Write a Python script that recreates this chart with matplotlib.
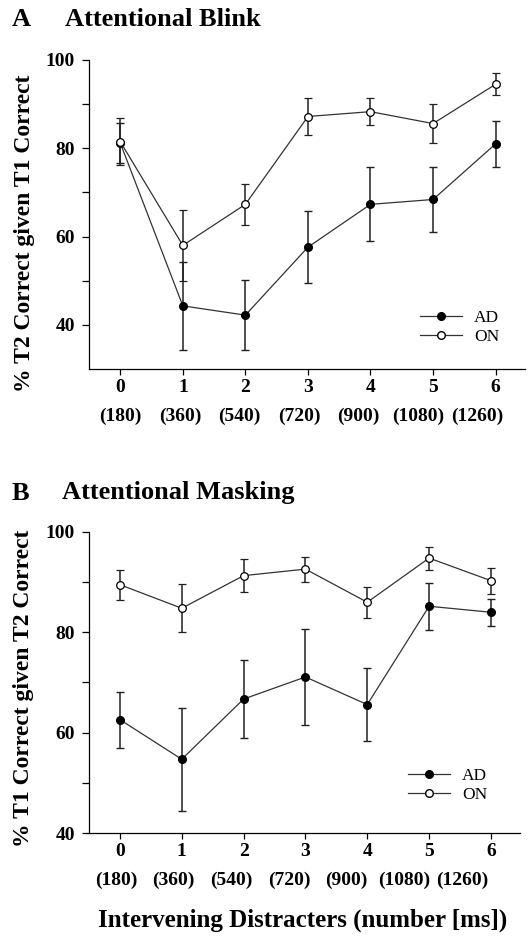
import matplotlib
matplotlib.use("Agg")
import matplotlib.pyplot as plt
from matplotlib.lines import Line2D

plt.rcParams["font.family"] = ["Liberation Serif", "DejaVu Serif"]

# ---------- Data ----------

distracters = [0, 1, 2, 3, 4, 5, 6]
ms_labels = ["(180)", "(360)", "(540)", "(720)", "(900)", "(1080)", "(1260)"]

# panel A: attentional blink (% T2 correct given T1 correct)
ad_blink = [81.2, 44.3, 42.2, 57.6, 67.3, 68.4, 81.0]
ad_blink_err = [4.6, 10.0, 8.0, 8.1, 8.4, 7.4, 5.2]
on_blink = [81.5, 58.0, 67.3, 87.2, 88.3, 85.6, 94.5]
on_blink_err = [5.3, 8.0, 4.7, 4.3, 3.0, 4.5, 2.5]

# panel B: attentional masking (% T1 correct given T2 correct)
ad_mask = [62.6, 54.7, 66.7, 71.1, 65.6, 85.2, 84.0]
ad_mask_err = [5.6, 10.3, 7.7, 9.6, 7.2, 4.7, 2.7]
on_mask = [89.5, 84.8, 91.3, 92.6, 86.0, 94.8, 90.3]
on_mask_err = [3.0, 4.8, 3.3, 2.5, 3.1, 2.3, 2.6]

# ---------- Figure ----------

W, H = 528, 936
fig = plt.figure(figsize=(W / 100, H / 100), dpi=100)

axA = fig.add_axes([89 / W, 1 - 369 / H, (525 - 89) / W, 309 / H])
axB = fig.add_axes([89 / W, 1 - 833 / H, (520 - 89) / W, 301 / H])

line_col = "#333333"
err_col = "#202020"


def draw_panel(ax, ad, ad_err, on, on_err, ylo, ylabel, ylabel_x, ylabel_y,
               ms_start, ms_step, leg_anchor):
    ax.errorbar(distracters, ad, yerr=ad_err, color=line_col, ecolor=err_col,
                elinewidth=1.1, capsize=3, capthick=1, lw=0.9,
                marker="o", ms=5.5, mfc="black", mec="black", zorder=3)
    ax.errorbar(distracters, on, yerr=on_err, color=line_col, ecolor=err_col,
                elinewidth=1.1, capsize=3, capthick=1, lw=0.9,
                marker="o", ms=5.5, mfc="white", mec="black", mew=0.9, zorder=4)

    ax.set_xlim(-0.5, 6.47)
    ax.set_ylim(ylo, 100)
    ax.set_yticks([40, 60, 80, 100])
    ax.set_yticks([50, 70, 90], minor=True)
    ax.set_yticklabels(["40", "60", "80", "100"], fontsize=14, fontweight="bold")
    ax.set_xticks(distracters)
    ax.set_xticklabels([str(d) for d in distracters], fontsize=14, fontweight="bold")
    ax.tick_params(axis="y", which="both", direction="out", length=5, width=0.9, pad=5)
    ax.tick_params(axis="x", direction="out", length=4, width=0.9, pad=3)

    for s in ["top", "right"]:
        ax.spines[s].set_visible(False)
    for s in ["left", "bottom"]:
        ax.spines[s].set_linewidth(0.9)

    # second row of x labels (ms), typed a bit tighter than the ticks
    for i, lab in enumerate(ms_labels):
        ax.annotate(lab, xy=(ms_start + i * ms_step, 0),
                    xycoords=("data", "axes fraction"),
                    xytext=(0, -34), textcoords="offset points",
                    ha="center", va="center", fontsize=14, fontweight="bold",
                    annotation_clip=False)

    handles = [
        Line2D([], [], color=line_col, lw=0.9, marker="o", ms=5.5,
               mfc="black", mec="black"),
        Line2D([], [], color=line_col, lw=0.9, marker="o", ms=5.5,
               mfc="white", mec="black"),
    ]
    ax.legend(handles, ["AD", "ON"], loc="upper left", bbox_to_anchor=leg_anchor,
              frameon=False, fontsize=12.5, handlelength=2.4, handletextpad=0.7,
              labelspacing=0.15, borderpad=0, borderaxespad=0)

    ax.set_ylabel(ylabel, fontsize=17, fontweight="bold")
    ax.yaxis.set_label_coords(ylabel_x, ylabel_y)


draw_panel(axA, ad_blink, ad_blink_err, on_blink, on_blink_err, 30,
           "% T2 Correct given T1 Correct", -0.123, 0.44, 0.0, 0.952, (0.76, 0.192))
draw_panel(axB, ad_mask, ad_mask_err, on_mask, on_mask_err, 40,
           "% T1 Correct given T2 Correct", -0.127, 0.482, -0.065, 0.933, (0.74, 0.217))

# panel titles
fig.text(12 / W, 1 - 20 / H, "A", fontsize=19, fontweight="bold", va="center")
fig.text(65 / W, 1 - 20 / H, "Attentional Blink", fontsize=19, fontweight="bold", va="center")
fig.text(12 / W, 1 - 493 / H, "B", fontsize=19, fontweight="bold", va="center")
fig.text(62 / W, 1 - 493 / H, "Attentional Masking", fontsize=19, fontweight="bold", va="center")

fig.text(303 / W, 1 - 920 / H, "Intervening Distracters (number [ms])",
         fontsize=18, fontweight="bold", ha="center", va="center")

fig.savefig("out.png", dpi=100)
